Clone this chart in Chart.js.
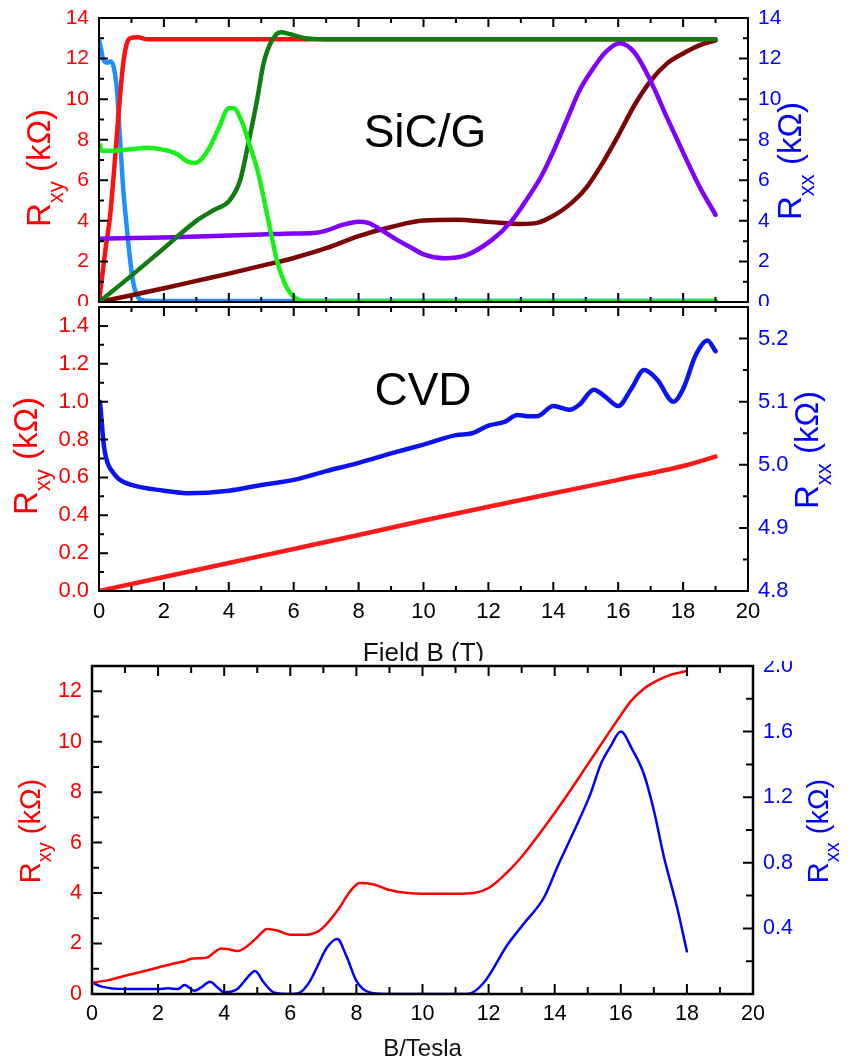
<!DOCTYPE html>
<html>
<head>
<meta charset="utf-8">
<script src="https://cdn.jsdelivr.net/npm/chart.js@4.4.0/dist/chart.umd.min.js"></script>
<style>
  html, body { margin: 0; padding: 0; background: #fff; }
  body { width: 848px; height: 1061px; position: relative; overflow: hidden; }
  canvas { position: absolute; left: 0; }
  #c1 { top: 0; }
  #c2 { top: 304px; }
  #c3 { top: 661px; background: #fff; }
</style>
</head>
<body>
<canvas id="c1" width="848" height="306"></canvas>
<canvas id="c2" width="848" height="366"></canvas>
<canvas id="c3" width="848" height="403"></canvas>
<script>
const FONT = '"Liberation Sans", Arial, Helvetica, sans-serif'

// ---- SiC/G panel (kΩ vs T) ----
const sicRedB = [0, 0.1, 0.2, 0.34, 0.45, 0.55, 0.65, 0.75, 0.85, 0.95, 1.2, 1.5, 19]
const sicRedR = [0, 1.3, 2.6, 4.2, 6.2, 8.2, 10.2, 11.8, 12.7, 13.0, 13.05, 12.95, 12.95]

const sicBlueB = [0, 0.05, 0.12, 0.25, 0.35, 0.45, 0.55, 0.65, 0.75, 0.85, 0.95, 1.05, 1.15, 1.3, 1.6, 3, 6, 19]
const sicBlueR = [12.9, 12.6, 12.0, 11.8, 11.85, 11.6, 10.5, 8.0, 5.5, 3.8, 2.2, 1.0, 0.4, 0.1, 0.05, 0.05, 0.05, 0.05]

const sicLimeB = [0, 0.03, 0.08, 0.3, 0.8, 1.5, 2.0, 2.4, 2.7, 2.9, 3.1, 3.4, 3.7, 4.0, 4.15, 4.4, 4.66, 4.9, 5.17, 5.48, 5.7, 5.9, 6.1, 6.3, 19]
const sicLimeR = [7.6, 7.75, 7.45, 7.45, 7.5, 7.6, 7.5, 7.3, 6.95, 6.85, 6.95, 7.6, 8.6, 9.55, 9.55, 8.9, 7.65, 6.4, 4.4, 2.07, 1.0, 0.43, 0.15, 0.05, 0.05]

const sicGreenB = [0, 1, 2, 3, 3.53, 4.02, 4.35, 4.6, 4.87, 5.07, 5.33, 5.6, 5.9, 6.3, 7, 19]
const sicGreenR = [0, 1.3, 2.65, 4.0, 4.53, 5.0, 6.0, 7.8, 9.95, 11.76, 12.9, 13.3, 13.2, 13.02, 12.95, 12.95]

const sicMaroonB = [0, 1, 2, 3, 4, 5, 6, 7, 8, 9, 10, 11, 12, 13, 13.5, 14, 14.5, 15, 15.5, 16, 16.5, 17, 17.5, 18, 18.5, 19]
const sicMaroonR = [0, 0.33, 0.68, 1.04, 1.4, 1.78, 2.17, 2.65, 3.25, 3.7, 4.02, 4.05, 3.95, 3.85, 3.9, 4.25, 4.8, 5.6, 6.8, 8.2, 9.7, 10.9, 11.75, 12.25, 12.65, 12.9]

const sicPurpleB = [0, 2, 4, 5, 6, 6.6, 7.0, 7.5, 8.0, 8.3, 8.7, 9.2, 9.6, 10.0, 10.65, 11.3, 12.1, 12.7, 13.2, 13.63, 14.05, 14.45, 14.8, 15.18, 15.6, 16.05, 16.5, 17.0, 17.5, 18.05, 18.5, 19.0]
const sicPurpleR = [3.12, 3.18, 3.28, 3.33, 3.38, 3.4, 3.52, 3.8, 3.96, 3.9, 3.55, 3.05, 2.7, 2.35, 2.16, 2.3, 3.05, 3.96, 5.1, 6.2, 7.6, 9.1, 10.4, 11.4, 12.3, 12.75, 12.3, 10.9, 9.1, 7.2, 5.7, 4.3]

// ---- CVD panel ----
const cvdRxyB = [0, 2, 4, 6, 8, 10, 12, 14, 16, 18, 19]
const cvdRxy = [0, 0.074, 0.148, 0.222, 0.296, 0.372, 0.445, 0.516, 0.587, 0.66, 0.71]

const cvdRxxB = [0.03, 0.08, 0.15, 0.25, 0.4, 0.6, 1.0, 2, 2.7, 4, 5, 6, 7, 8, 9, 10, 11, 11.5, 12, 12.5, 12.9, 13.2, 13.5, 14.0, 14.5, 14.8, 15.25, 15.6, 16.0, 16.4, 16.8, 17.2, 17.7, 18.0, 18.4, 18.75, 19.0]
const cvdRxx = [5.1, 5.07, 5.03, 5.005, 4.99, 4.978, 4.968, 4.959, 4.955, 4.959, 4.968, 4.976, 4.99, 5.003, 5.018, 5.032, 5.047, 5.05, 5.062, 5.068, 5.079, 5.077, 5.077, 5.093, 5.087, 5.095, 5.119, 5.108, 5.093, 5.12, 5.15, 5.135, 5.1, 5.12, 5.175, 5.197, 5.18]

// ---- lower panel ----
const lowRxyB = [0, 0.5, 1, 1.5, 2, 2.5, 2.8, 3.0, 3.3, 3.5, 3.7, 3.9, 4.1, 4.4, 4.7, 5.0, 5.3, 5.6, 6.0, 6.5, 6.8, 7.0, 7.5, 7.8, 8.1, 8.5, 9.0, 10.0, 11.0, 11.56, 12.0, 12.57, 13.07, 13.68, 14.28, 14.99, 15.6, 16.0, 16.3, 16.7, 17.1, 17.5, 18.0]
const lowRxy = [0.45, 0.55, 0.72, 0.88, 1.05, 1.22, 1.3, 1.4, 1.42, 1.45, 1.65, 1.8, 1.78, 1.7, 1.9, 2.25, 2.58, 2.52, 2.35, 2.35, 2.45, 2.64, 3.44, 4.05, 4.4, 4.35, 4.12, 3.97, 3.97, 4.0, 4.2, 4.83, 5.55, 6.6, 7.7, 9.08, 10.28, 11.05, 11.6, 12.1, 12.42, 12.65, 12.8]

const lowRxxB = [0, 0.3, 1, 2, 2.3, 2.6, 2.8, 3.1, 3.3, 3.57, 3.8, 4.0, 4.4, 4.7, 4.93, 5.2, 5.5, 6.0, 6.3, 6.6, 6.8, 7.1, 7.42, 7.7, 8.0, 8.4, 9, 11.36, 11.86, 12.57, 13.07, 13.68, 14.08, 14.69, 15.09, 15.39, 15.69, 16.0, 16.35, 16.7, 17.0, 17.3, 17.7, 18.0]
const lowRxx = [0.07, 0.045, 0.03, 0.03, 0.035, 0.03, 0.055, 0.02, 0.04, 0.075, 0.04, 0.01, 0.03, 0.1, 0.14, 0.07, 0.01, 0.0, 0.01, 0.08, 0.16, 0.28, 0.335, 0.23, 0.08, 0.01, 0.0, 0.0, 0.07, 0.30, 0.43, 0.59, 0.775, 1.04, 1.225, 1.40, 1.51, 1.60, 1.49, 1.34, 1.12, 0.84, 0.53, 0.26]

// ---- tick labels ----
const fieldTicks = [0, 2, 4, 6, 8, 10, 12, 14, 16, 18, 20]
const sicTicks = [0, 2, 4, 6, 8, 10, 12, 14]
const cvdLeftTicks = [0, 0.2, 0.4, 0.6, 0.8, 1.0, 1.2, 1.4]
const cvdRightTicks = [4.8, 4.9, 5.0, 5.1, 5.2]
const lowLeftTicks = [0, 2, 4, 6, 8, 10, 12]
const lowRightTicks = [0.4, 0.8, 1.2, 1.6, 2.0]

const RED = '#ff0000'
const BLUE = '#0000ff'

function line(xs, ys, color, width, axis) {
  return {
    data: xs.map((x, i) => ({ x, y: ys[i] })),
    borderColor: color, borderWidth: width, pointRadius: 0, fill: false,
    cubicInterpolationMode: 'monotone', yAxisID: axis,
    borderCapStyle: 'round', borderJoinStyle: 'round'
  }
}

function axis(o) {
  return {
    type: 'linear', position: o.position, min: o.min, max: o.max,
    grid: { display: false, drawTicks: false },
    border: { display: false },
    title: o.title || { display: false },
    ticks: {
      display: o.labels !== false, color: o.color || '#000', padding: o.pad,
      font: { family: FONT, size: o.font || 21 }, autoSkip: false, maxRotation: 0,
      callback: v => o.digits != null ? v.toFixed(o.digits) : String(v)
    },
    afterBuildTicks: s => { s.ticks = o.ticks.map(v => ({ value: v })) },
    afterFit: s => {
      if (s.isHorizontal()) s.height = o.size; else s.width = o.size
      s.paddingTop = s.paddingBottom = s.paddingLeft = s.paddingRight = 0
    }
  }
}

function eachTick(scale, fn) {
  const vals = scale.ticks.map(t => t.value)
  const half = (vals[1] - vals[0]) / 2
  const k0 = Math.ceil((scale.min - vals[0]) / half - 1e-6)
  for (let k = k0; vals[0] + k * half <= scale.max + 1e-9; k++) {
    fn(scale.getPixelForValue(vals[0] + k * half), k % 2 === 0)
  }
}

function subTitle(ctx, t) {
  const big = t.size + 'px ' + FONT
  const small = Math.round(t.size * 0.68) + 'px ' + FONT
  ctx.save()
  ctx.translate(t.x, t.y)
  ctx.rotate(-Math.PI / 2)
  ctx.fillStyle = t.color
  ctx.textAlign = 'left'
  ctx.textBaseline = 'alphabetic'
  ctx.font = big
  const w1 = ctx.measureText(t.main).width
  const w3 = ctx.measureText(t.tail).width
  ctx.font = small
  const w2 = ctx.measureText(t.sub).width
  const x0 = -(w1 + w2 + w3) / 2
  ctx.font = big
  ctx.fillText(t.main, x0, 0)
  ctx.font = small
  ctx.fillText(t.sub, x0 + w1, t.size * 0.38)
  ctx.font = big
  ctx.fillText(t.tail, x0 + w1 + w2, 0)
  ctx.restore()
}

// frame, inward ticks, axis titles with subscripts, panel names
function decor(d) {
  return {
    id: 'decor',
    afterDatasetsDraw(chart) {
      const { ctx, chartArea: a, scales } = chart
      ctx.save()
      ctx.strokeStyle = '#000'
      ctx.lineWidth = d.frame
      ctx.strokeRect(a.left, a.top, a.right - a.left, a.bottom - a.top)
      ctx.lineWidth = d.tickWidth
      ctx.beginPath()
      eachTick(scales.x, (p, major) => {
        const L = major ? d.major : d.minor
        ctx.moveTo(p, a.bottom); ctx.lineTo(p, a.bottom - L)
        ctx.moveTo(p, a.top); ctx.lineTo(p, a.top + L)
      })
      eachTick(scales.y, (p, major) => {
        const L = major ? d.major : d.minor
        ctx.moveTo(a.left, p); ctx.lineTo(a.left + L, p)
      })
      eachTick(scales.y2, (p, major) => {
        const L = major ? d.major : d.minor
        ctx.moveTo(a.right, p); ctx.lineTo(a.right - L, p)
      })
      ctx.stroke()
      ctx.restore()
      d.titles.forEach(t => subTitle(ctx, t))
      ;(d.texts || []).forEach(t => {
        ctx.save()
        ctx.font = t.size + 'px ' + FONT
        ctx.fillStyle = '#000'
        ctx.textAlign = 'center'
        ctx.textBaseline = 'alphabetic'
        ctx.fillText(t.text, t.x, t.y)
        ctx.restore()
      })
    }
  }
}

function makeChart(id, cfg) {
  return new Chart(document.getElementById(id), {
    type: 'line',
    data: { datasets: cfg.datasets },
    options: {
      responsive: false, animation: false, events: [],
      layout: { padding: cfg.padding },
      plugins: { legend: { display: false }, tooltip: { enabled: false } },
      scales: cfg.scales
    },
    plugins: [decor(cfg.decor)]
  })
}

// top panel: SiC/G
makeChart('c1', {
  padding: { left: 0, right: 0, top: 18, bottom: 4 },
  datasets: [
    line(sicLimeB, sicLimeR, '#19f019', 4.5, 'y2'),
    line(sicGreenB, sicGreenR, '#127c12', 4.5, 'y'),
    line(sicPurpleB, sicPurpleR, '#8000ff', 4.5, 'y2'),
    line(sicMaroonB, sicMaroonR, '#7b0505', 4.5, 'y'),
    line(sicRedB, sicRedR, '#ff1010', 4.5, 'y'),
    line(sicBlueB, sicBlueR, '#1e90ff', 4.5, 'y2')
  ],
  scales: {
    x: axis({ position: 'bottom', min: 0, max: 20, ticks: fieldTicks, labels: false, size: 0 }),
    y: axis({ position: 'left', min: 0, max: 14, ticks: sicTicks, color: RED, pad: 10, size: 99 }),
    y2: axis({ position: 'right', min: 0, max: 14, ticks: sicTicks, color: BLUE, pad: 10, size: 100 })
  },
  decor: {
    frame: 2, tickWidth: 2, major: 9, minor: 5,
    titles: [
      { x: 50, y: 168, size: 33, color: RED, main: 'R', sub: 'xy', tail: ' (kΩ)' },
      { x: 801, y: 161, size: 33, color: BLUE, main: 'R', sub: 'xx', tail: ' (kΩ)' }
    ],
    texts: [{ text: 'SiC/G', x: 425, y: 147, size: 46 }]
  }
})

// middle panel: CVD
makeChart('c2', {
  padding: { left: 0, right: 0, top: 3, bottom: 0 },
  datasets: [
    line(cvdRxxB, cvdRxx, '#0a14f0', 4.5, 'y2'),
    line(cvdRxyB, cvdRxy, '#ff1a1a', 4.5, 'y')
  ],
  scales: {
    x: axis({
      position: 'bottom', min: 0, max: 20, ticks: fieldTicks, pad: 8, size: 79, font: 22,
      title: { display: true, text: 'Field B (T)', color: '#111', font: { family: FONT, size: 26 }, padding: { top: 0, bottom: 1 } }
    }),
    y: axis({ position: 'left', min: 0, max: 1.5, ticks: cvdLeftTicks, color: RED, pad: 10, size: 99, digits: 1, font: 22 }),
    y2: axis({ position: 'right', min: 4.8, max: 5.25, ticks: cvdRightTicks, color: BLUE, pad: 10, size: 100, digits: 1, font: 22 })
  },
  decor: {
    frame: 2, tickWidth: 2, major: 9, minor: 5,
    titles: [
      { x: 37, y: 152, size: 33, color: RED, main: 'R', sub: 'xy', tail: ' (kΩ)' },
      { x: 818, y: 146, size: 33, color: BLUE, main: 'R', sub: 'xx', tail: ' (kΩ)' }
    ],
    texts: [{ text: 'CVD', x: 423, y: 101, size: 46 }]
  }
})

// bottom panel
makeChart('c3', {
  padding: { left: 0, right: 0, top: 5, bottom: 0 },
  datasets: [
    line(lowRxyB, lowRxy, RED, 2.5, 'y'),
    line(lowRxxB, lowRxx, BLUE, 2.5, 'y2')
  ],
  scales: {
    x: axis({
      position: 'bottom', min: 0, max: 20, ticks: fieldTicks, pad: 7, size: 70, font: 21.5,
      title: { display: true, text: 'B/Tesla', color: '#111', font: { family: FONT, size: 24 }, padding: { top: 0, bottom: 0 } }
    }),
    y: axis({ position: 'left', min: 0, max: 13, ticks: lowLeftTicks, color: RED, pad: 10, size: 92, font: 21.5 }),
    y2: axis({ position: 'right', min: 0, max: 2, ticks: lowRightTicks, color: BLUE, pad: 10, size: 95, digits: 1, font: 21.5 })
  },
  decor: {
    frame: 2.5, tickWidth: 2, major: 10, minor: 7,
    titles: [
      { x: 40, y: 170, size: 29, color: RED, main: 'R', sub: 'xy', tail: ' (kΩ)' },
      { x: 828, y: 170, size: 29, color: BLUE, main: 'R', sub: 'xx', tail: ' (kΩ)' }
    ]
  }
})
</script>
</body>
</html>
